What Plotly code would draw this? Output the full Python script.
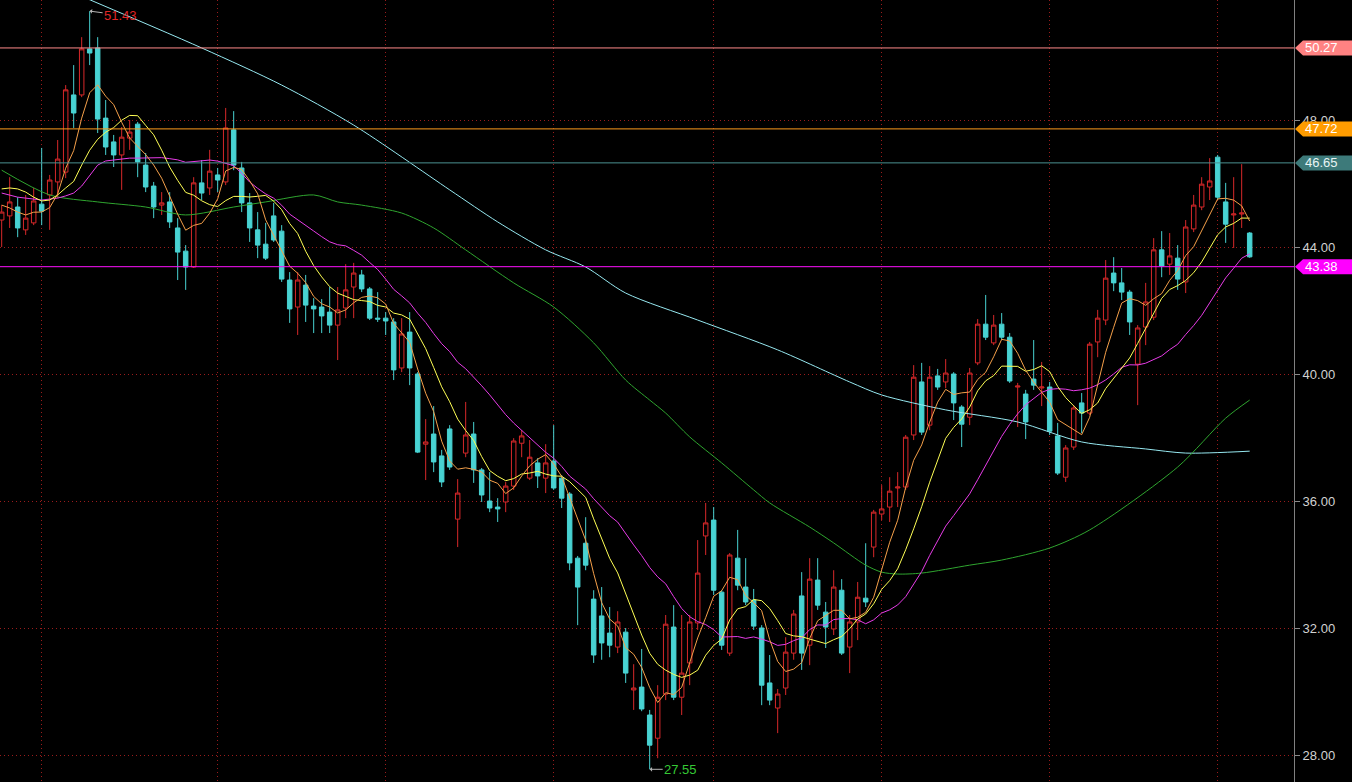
import pandas as pd
import plotly.graph_objects as go

# ---------------- data ----------------
opens = [44.85, 44.98, 45.26, 44.54, 44.76, 45.35, 45.64, 46.05, 46.36, 48.79,
         48.79, 50.24, 50.27, 48.06, 47.31, 46.90, 47.43, 47.87, 46.58, 45.92,
         45.32, 45.42, 44.60, 43.87, 43.37, 46.02, 45.86, 46.27, 46.05, 47.69,
         46.49, 45.39, 44.54, 44.09, 44.98, 44.50, 42.96, 42.11, 42.80, 42.14,
         42.11, 41.95, 41.54, 42.08, 42.74, 43.12, 42.68, 41.76, 41.76, 41.64,
         40.19, 41.32, 40.00, 37.79, 38.11, 37.42, 38.27, 35.43, 37.51, 38.11,
         36.98, 36.00, 35.81, 35.97, 36.47, 37.82, 36.72, 37.20, 36.72, 37.26,
         36.72, 36.22, 34.20, 34.67, 32.91, 32.38, 31.84, 31.40, 31.87, 30.05,
         30.14, 29.26, 28.53, 29.92, 32.03, 29.82, 30.90, 32.16, 34.90, 35.40,
         33.13, 31.21, 34.20, 33.29, 32.88, 32.00, 30.27, 29.48, 30.11, 31.21,
         33.01, 31.46, 33.51, 32.50, 31.97, 33.19, 31.40, 32.19, 32.94, 34.55,
         35.59, 35.81, 36.41, 36.44, 38.08, 39.75, 38.39, 39.94, 39.75, 40.00,
         38.96, 38.64, 40.35, 41.57, 40.98, 41.57, 41.16, 39.59, 39.37, 39.84,
         39.56, 39.59, 38.05, 36.75, 37.70, 39.09, 38.77, 41.01, 41.70, 43.18,
         42.87, 42.58, 40.31, 41.48, 41.79, 43.91, 43.46, 43.65, 42.90, 44.57,
         45.26, 45.89, 46.83, 45.42, 45.01, 45.04, 44.44]
highs = [45.32, 46.20, 45.57, 45.64, 45.86, 47.12, 46.27, 47.37, 49.10, 49.73,
         50.61, 51.43, 50.61, 48.63, 47.53, 47.78, 48.00, 47.94, 46.96, 46.05,
         45.73, 45.73, 44.91, 44.06, 46.20, 46.74, 47.06, 46.49, 48.38, 48.28,
         46.68, 45.70, 45.10, 44.76, 45.39, 44.69, 43.21, 43.21, 43.12, 42.39,
         42.36, 42.74, 42.74, 43.46, 43.50, 43.28, 42.74, 42.58, 41.95, 41.76,
         41.76, 41.95, 40.06, 38.58, 38.99, 37.61, 38.39, 36.69, 39.12, 38.49,
         37.04, 36.91, 36.09, 36.60, 37.98, 38.23, 37.92, 37.35, 37.79, 38.39,
         36.82, 36.28, 34.27, 35.49, 33.19, 33.29, 32.66, 32.53, 32.00, 30.86,
         31.34, 29.42, 30.20, 32.41, 32.72, 32.41, 32.41, 34.77, 35.94, 35.81,
         33.19, 34.36, 35.09, 34.20, 33.23, 32.09, 31.15, 30.08, 31.71, 32.57,
         33.76, 34.20, 34.20, 32.82, 33.82, 33.54, 32.41, 33.45, 34.67, 35.72,
         36.50, 36.75, 36.91, 38.08, 40.28, 40.35, 40.25, 40.16, 40.47, 40.06,
         39.02, 40.19, 41.73, 42.49, 41.86, 41.92, 41.29, 39.72, 39.50, 41.07,
         40.38, 39.75, 38.46, 37.76, 39.02, 39.40, 41.01, 42.02, 43.59, 43.68,
         43.34, 42.65, 41.54, 42.87, 44.28, 44.50, 44.44, 44.06, 44.85, 45.64,
         46.20, 46.80, 46.90, 46.02, 46.20, 46.61, 44.47]
lows = [44.00, 44.60, 44.31, 44.38, 44.69, 44.69, 44.54, 45.54, 46.17, 47.75,
        48.72, 49.73, 47.59, 46.90, 46.52, 45.80, 47.06, 46.20, 45.73, 44.91,
        45.01, 44.60, 42.96, 42.65, 43.34, 45.48, 45.64, 45.73, 45.95, 46.42,
        45.10, 44.16, 43.65, 43.59, 44.16, 42.90, 41.61, 41.23, 41.64, 41.29,
        41.29, 41.29, 40.44, 41.76, 41.76, 42.58, 41.70, 41.64, 41.23, 39.81,
        40.06, 39.65, 37.51, 36.66, 36.91, 36.44, 36.98, 34.55, 37.38, 36.57,
        35.97, 35.65, 35.34, 35.65, 36.35, 37.38, 36.66, 36.41, 36.25, 36.35,
        35.78, 33.82, 32.09, 33.82, 30.90, 31.00, 31.08, 31.21, 30.27, 29.42,
        29.38, 27.55, 27.90, 29.73, 29.73, 29.26, 30.20, 31.94, 34.30, 33.04,
        31.31, 31.12, 33.19, 32.72, 31.94, 29.57, 29.57, 28.69, 29.89, 31.00,
        30.68, 30.83, 32.57, 31.37, 31.78, 31.15, 30.58, 31.62, 32.66, 34.23,
        35.40, 35.34, 35.81, 36.35, 37.92, 38.08, 38.23, 39.50, 39.56, 38.55,
        37.70, 38.39, 40.28, 41.07, 40.91, 41.07, 39.72, 38.33, 37.95, 39.50,
        38.99, 38.08, 36.82, 36.60, 37.61, 38.14, 38.71, 40.53, 41.54, 42.61,
        42.33, 41.23, 39.02, 40.91, 41.70, 43.05, 43.12, 42.65, 42.55, 44.47,
        45.16, 45.48, 45.48, 44.13, 43.97, 44.60, 43.66]
closes = [45.10, 45.42, 44.60, 44.91, 45.45, 45.13, 46.11, 46.77, 48.95, 48.22,
          50.24, 50.11, 48.03, 47.15, 46.90, 47.46, 47.62, 46.68, 45.89, 45.26,
          45.39, 44.79, 43.84, 43.37, 46.02, 45.70, 46.39, 46.11, 47.75, 46.58,
          45.39, 44.60, 44.06, 43.65, 44.22, 42.99, 42.05, 42.96, 42.17, 42.05,
          41.83, 41.54, 42.02, 42.65, 43.18, 42.68, 41.76, 41.73, 41.67, 40.13,
          41.26, 40.19, 37.54, 37.86, 37.23, 36.60, 37.07, 36.25, 38.08, 36.98,
          36.19, 35.78, 35.75, 36.47, 37.89, 38.05, 37.38, 36.79, 37.20, 36.41,
          36.09, 34.05, 33.29, 33.98, 31.15, 31.53, 31.46, 32.19, 30.58, 30.11,
          29.45, 28.31, 29.82, 32.12, 29.82, 30.58, 32.19, 33.73, 35.31, 33.19,
          31.46, 34.30, 33.35, 32.82, 32.06, 30.20, 29.73, 29.92, 31.24, 32.44,
          31.21, 33.54, 32.72, 32.03, 33.29, 31.21, 32.19, 32.97, 32.82, 35.65,
          35.75, 36.31, 36.44, 38.01, 39.90, 38.17, 39.90, 39.59, 40.03, 39.09,
          38.42, 40.03, 41.57, 41.16, 41.54, 41.16, 39.78, 39.62, 38.49, 39.65,
          39.59, 38.20, 36.88, 37.67, 38.93, 38.77, 40.94, 41.76, 43.02, 42.87,
          42.58, 41.64, 41.45, 42.27, 43.91, 43.40, 43.72, 42.99, 44.63, 45.32,
          45.98, 46.08, 45.57, 44.72, 45.04, 45.07, 43.69]

# moving-average values at the left edge (before a full window exists)
ma5_lead = [45.32, 45.23, 45.10, 45.01]
ma10_lead = [45.83, 45.86, 45.83, 45.73, 45.57, 45.45, 45.48, 45.64, 45.86]
ma20_lead = [45.70, 45.64, 45.57, 45.54, 45.51, 45.48, 45.51, 45.54, 45.61, 45.70,
             45.92, 46.27, 46.58, 46.71, 46.74, 46.77, 46.80, 46.80, 46.80]

# long moving averages read at sample candles
ma60_idx = [0, 6, 12, 18, 23, 29, 33, 39, 42, 45, 50, 54, 58, 64, 69, 74, 78, 81,
            83, 86, 90, 94, 96, 101, 104, 108, 110, 112, 115, 121, 125, 131, 136,
            147, 153, 156]
ma60_val = [46.42, 45.64, 45.42, 45.26, 45.01, 45.26, 45.42, 45.64, 45.42, 45.32,
            45.07, 44.60, 43.91, 42.87, 42.11, 40.98, 39.81, 39.18, 38.77, 38.02,
            37.20, 36.35, 35.94, 35.18, 34.68, 33.98, 33.76, 33.70, 33.73, 33.98,
            34.14, 34.52, 35.09, 37.07, 38.61, 39.18]
malong_idx = [8, 25, 35, 44, 56, 62, 68, 73, 78, 87, 97, 106, 110, 118, 127, 135,
              143, 148, 156]
malong_val = [52.11, 50.27, 49.10, 47.84, 45.80, 44.79, 43.91, 43.37, 42.55, 41.70,
              40.76, 39.75, 39.34, 38.87, 38.49, 37.86, 37.64, 37.51, 37.57]

# horizontal reference levels
level_vals = [50.27, 47.72, 46.65, 43.38]

# price axis ticks and month-start candles (vertical grid)
y_ticks = [28, 32, 36, 40, 44, 48]
month_idx = [5, 27, 48, 69, 89, 110, 131, 152]

peak_idx, peak_val = 11, 51.43
trough_idx, trough_val = 81, 27.55

# ---------------- styles ----------------
UP = "#d8282a"
DOWN = "#48d2d2"
GRID = "#9a1c1c"
GRID_DASH = "1px,3px"
FONT = "Liberation Sans"
level_line_colors = ["#ff8a8a", "#ff9d1c", "#4b9191", "#ff10ff"]
level_box_colors = ["#ff8282", "#ff9c00", "#3d7a7a", "#ff00ff"]
level_text_colors = ["#ffffff", "#ffffff", "#e8f4f4", "#ffffff"]

W, H = 1352, 782
ML, MR = 0, 58
Y_RANGE = [27.15, 51.78]
X_RANGE = [-0.21, 161.54]
plot_w = W - ML - MR

n = len(closes)
xs = list(range(n))
s = pd.Series(closes)
ma5 = s.rolling(5).mean().tolist()
ma10 = s.rolling(10).mean().tolist()
ma20 = s.rolling(20).mean().tolist()
ma5[:len(ma5_lead)] = ma5_lead
ma10[:len(ma10_lead)] = ma10_lead
ma20[:len(ma20_lead)] = ma20_lead

fig = go.Figure()
fig.add_trace(go.Candlestick(
    x=xs, open=opens, high=highs, low=lows, close=closes,
    increasing=dict(line=dict(color=UP, width=1), fillcolor="#000000"),
    decreasing=dict(line=dict(color=DOWN, width=1), fillcolor=DOWN),
    whiskerwidth=0, hoverinfo="skip", showlegend=False,
))

fig.add_trace(go.Scatter(x=malong_idx, y=malong_val, mode="lines",
                         line=dict(color="#96e8f0", width=1, shape="spline", smoothing=0.8),
                         hoverinfo="skip"))
fig.add_trace(go.Scatter(x=ma60_idx, y=ma60_val, mode="lines",
                         line=dict(color="#2fa52f", width=1, shape="spline", smoothing=0.8),
                         hoverinfo="skip"))
fig.add_trace(go.Scatter(x=xs, y=ma20, mode="lines",
                         line=dict(color="#e83ce8", width=1), hoverinfo="skip"))
fig.add_trace(go.Scatter(x=xs, y=ma10, mode="lines",
                         line=dict(color="#ffff55", width=1), hoverinfo="skip"))
fig.add_trace(go.Scatter(x=xs, y=ma5, mode="lines",
                         line=dict(color="#f5a04a", width=1), hoverinfo="skip"))

# horizontal levels with flag labels on the price axis
px_per_unit = H / (Y_RANGE[1] - Y_RANGE[0])
half_h = 7.5 / px_per_unit
tip = (plot_w + 1) / plot_w
left = (plot_w + 9) / plot_w
right = (W - ML) / plot_w
shapes = []
annotations = []
for v, lc, bc, tc in zip(level_vals, level_line_colors, level_box_colors, level_text_colors):
    shapes.append(dict(type="line", xref="paper", yref="y", x0=0, x1=1, y0=v, y1=v,
                       line=dict(color=lc, width=1)))
    shapes.append(dict(type="path", xref="paper", yref="y",
                       path=f"M {tip},{v} L {left},{v + half_h} L {right},{v + half_h} "
                            f"L {right},{v - half_h} L {left},{v - half_h} Z",
                       fillcolor=bc, line=dict(width=0)))
    annotations.append(dict(xref="paper", yref="y", x=left, y=v, xanchor="left",
                            yanchor="middle", text=f"{v:.2f}", showarrow=False,
                            font=dict(family=FONT, size=13, color=tc)))

annotations.append(dict(x=peak_idx, y=peak_val, xref="x", yref="y", text=f"{peak_val:.2f}",
                        showarrow=True, arrowhead=1, arrowsize=0.8, arrowwidth=1,
                        arrowcolor="#b4b4b4", ax=31, ay=4,
                        font=dict(family=FONT, size=13, color="#e02626")))
annotations.append(dict(x=trough_idx, y=trough_val, xref="x", yref="y", text=f"{trough_val:.2f}",
                        showarrow=True, arrowhead=1, arrowsize=0.8, arrowwidth=1,
                        arrowcolor="#b4b4b4", ax=31, ay=0,
                        font=dict(family=FONT, size=13, color="#35c935")))

fig.update_layout(
    template="none",
    width=W, height=H,
    margin=dict(l=ML, r=MR, t=0, b=0, pad=0),
    paper_bgcolor="#000000", plot_bgcolor="#000000",
    showlegend=False, hovermode=False,
    boxgap=0.2,
    shapes=shapes, annotations=annotations,
    xaxis=dict(range=X_RANGE, rangeslider=dict(visible=False), showticklabels=False,
               tickmode="array", tickvals=month_idx, ticks="", showgrid=True,
               gridcolor=GRID, griddash=GRID_DASH, gridwidth=1, zeroline=False,
               showline=False, automargin=False, fixedrange=True),
    yaxis=dict(side="right", range=Y_RANGE, tickmode="array", tickvals=y_ticks,
               tickformat=".2f", ticks="outside", ticklen=5, tickcolor="#8a8a8a",
               showgrid=True, gridcolor=GRID, griddash=GRID_DASH, gridwidth=1,
               showline=True, linecolor="#808080", linewidth=1, zeroline=False,
               tickfont=dict(family=FONT, size=13, color="#d2d2d2"),
               automargin=False, fixedrange=True),
)

fig.write_html("out.html", config={"displayModeBar": False})

# remove the default page margin so the figure starts at the window's corner
with open("out.html", "r", encoding="utf-8") as f:
    html = f.read()
html = html.replace("<head>", "<head><style>html,body{margin:0;padding:0;background:#000;overflow:hidden;}</style>", 1)
with open("out.html", "w", encoding="utf-8") as f:
    f.write(html)
